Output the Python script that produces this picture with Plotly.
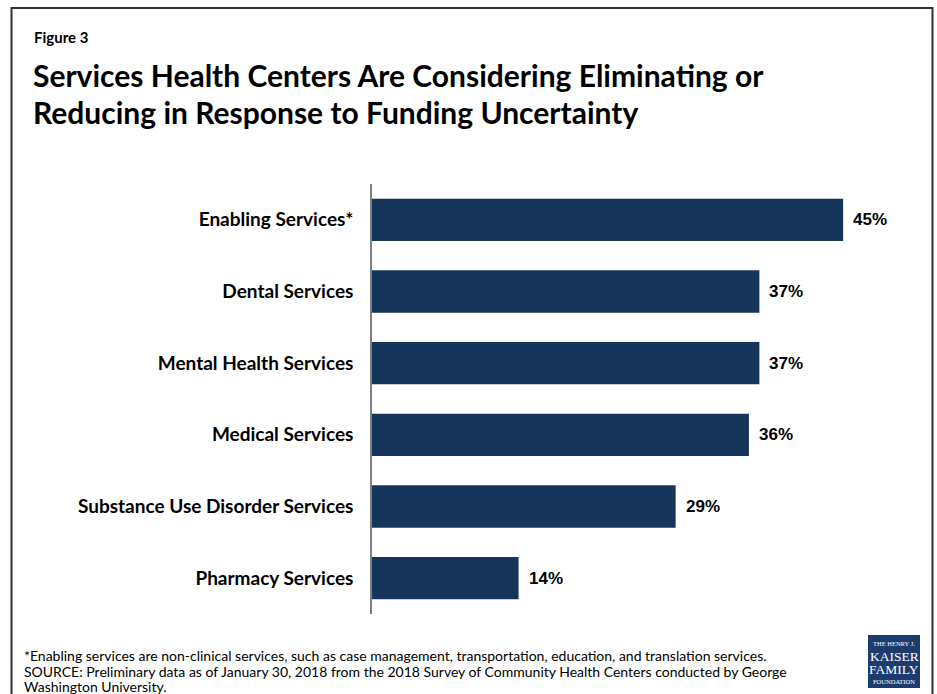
import plotly.graph_objects as go

# Data
categories = [
    "Enabling Services*",
    "Dental Services",
    "Mental Health Services",
    "Medical Services",
    "Substance Use Disorder Services",
    "Pharmacy Services",
]
values = [45, 37, 37, 36, 29, 14]

W, H = 937, 694
BAR_COLOR = "#17355a"
LABEL_FONT = "Lato, 'Open Sans', sans-serif"
VALUE_FONT = "'Liberation Sans', Arial, sans-serif"

# plot area in pixels
x0_px, px_per_unit, x_max = 372, 10.47, 50
y_top_px, y_bot_px = 184, 614

fig = go.Figure()
fig.add_trace(go.Bar(
    x=values,
    y=categories,
    orientation="h",
    marker=dict(color=BAR_COLOR, line=dict(width=0)),
    width=0.59,
    hoverinfo="skip",
))

# value labels beside each bar
for cat, v in zip(categories, values):
    fig.add_annotation(
        x=v, y=cat, xref="x", yref="y",
        text=f"<b>{v}%</b>", showarrow=False,
        xanchor="left", xshift=8,
        font=dict(family=VALUE_FONT, size=17, color="#000000"),
    )

fig.update_layout(
    width=W, height=H,
    margin=dict(l=0, r=0, t=0, b=0),
    paper_bgcolor="white", plot_bgcolor="white",
    showlegend=False,
    xaxis=dict(
        range=[0, x_max],
        domain=[x0_px / W, (x0_px + x_max * px_per_unit) / W],
        visible=False, fixedrange=True,
    ),
    yaxis=dict(
        autorange=False,
        range=[len(categories) - 0.5, -0.5],
        domain=[1 - y_bot_px / H, 1 - y_top_px / H],
        showline=True, linecolor="#7f7f7f", linewidth=1.5,
        ticks="", showgrid=False, zeroline=False,
        ticklabelstandoff=13,
        tickfont=dict(family=LABEL_FONT, size=19, color="#000000", weight="bold"),
        fixedrange=True,
    ),
)

# outer frame
fig.add_shape(type="rect", xref="paper", yref="paper",
              x0=11.5 / W, x1=932.5 / W, y0=-0.05, y1=1 - 8 / H,
              line=dict(color="#333333", width=2), fillcolor="rgba(0,0,0,0)")

# heading
fig.add_annotation(xref="paper", yref="paper", x=32 / W, y=1 - 37 / H,
                   text="<b>Figure 3</b>", showarrow=False,
                   xanchor="left", yanchor="middle",
                   font=dict(family=LABEL_FONT, size=15, color="#000000"))
title_lines = [
    ("Services Health Centers Are Considering Eliminating or", 75),
    ("Reducing in Response to Funding Uncertainty", 112),
]
for txt, yy in title_lines:
    fig.add_annotation(xref="paper", yref="paper", x=31 / W, y=1 - yy / H,
                       text=f"<b>{txt}</b>", showarrow=False,
                       xanchor="left", yanchor="middle", align="left",
                       font=dict(family=LABEL_FONT, size=30, color="#000000"))

# footnotes
note_lines = [
    ("*Enabling services are non-clinical services, such as case management, transportation, education, and translation services.", 655),
    ("SOURCE: Preliminary data as of January 30, 2018 from the 2018 Survey of Community Health Centers conducted by George", 671),
    ("Washington University.", 686),
]
for txt, yy in note_lines:
    fig.add_annotation(xref="paper", yref="paper", x=22 / W, y=1 - yy / H,
                       text=txt, showarrow=False, xanchor="left", yanchor="middle",
                       font=dict(family=LABEL_FONT, size=14, color="#000000"))

# logo block
fig.add_shape(type="rect", xref="paper", yref="paper",
              x0=868 / W, x1=920 / W, y0=1 - 688 / H, y1=1 - 635 / H,
              line=dict(width=0), fillcolor="#1d3c6e")
logo_lines = [("THE HENRY J.", 6.5, 643), ("KAISER", 13.5, 656), ("FAMILY", 13.5, 669), ("FOUNDATION", 6.5, 681)]
for txt, sz, yy in logo_lines:
    fig.add_annotation(xref="paper", yref="paper", x=894 / W, y=1 - yy / H,
                       text=txt, showarrow=False, xanchor="center", yanchor="middle",
                       font=dict(family="'Liberation Serif', serif", size=sz, color="white"))

fig.write_html("out.html")
